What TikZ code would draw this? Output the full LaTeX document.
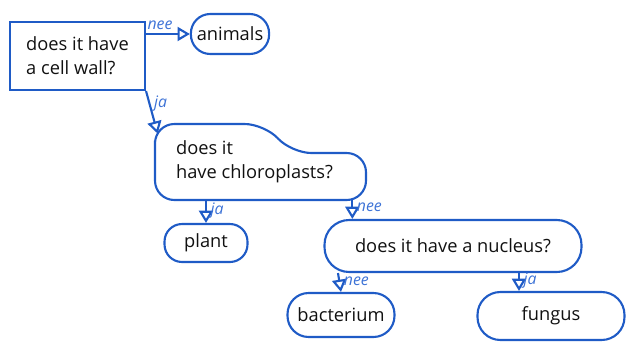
\documentclass[tikz,border=0pt]{standalone}
\usepackage{fontspec}
\setmainfont{Open Sans}
\usetikzlibrary{arrows.meta}
\usepackage{xcolor}
\definecolor{penblue}{HTML}{1F5BC6}
\definecolor{inkblue}{HTML}{3C72D6}
\definecolor{jet}{HTML}{111111}

\begin{document}
\begin{tikzpicture}[x=0.02cm, y=-0.02cm,
  question/.style={draw=penblue, line width=1.2pt, align=left, text=jet,
                   font=\fontsize{10.4}{13.6}\selectfont},
  answer/.style={draw=penblue, line width=1.2pt, rounded corners=10pt,
                 text=jet, font=\fontsize{10.4}{13.6}\selectfont},
  arr/.style={-{Triangle[open, length=7pt, width=8pt]}, draw=penblue, line width=1.2pt},
  choice/.style={font=\fontsize{9}{9}\selectfont\itshape, text=inkblue, inner sep=2pt}
]
  \useasboundingbox (0,0) rectangle (636,345);

  % Root question
  \node[question, minimum width=2.7cm, minimum height=1.36cm] (wall) at (77.5,56)
    {does it have\\a cell wall?};
  \node[answer, minimum width=1.52cm, minimum height=0.8cm, rounded corners=11pt] (animals) at (230,34) {animals};
  \draw[arr] (wall.north east |- animals.west) -- (animals.west)
    node[choice, above, pos=0.32] {nee};

  % Chloroplasts
  \node[text=jet, align=left, font=\fontsize{10.4}{13.6}\selectfont,
        minimum width=4.2cm, minimum height=1.52cm] (chloro) at (260,162)
    {does it\\have chloroplasts?\hspace*{0.6em}};
  \draw[penblue, line width=1.2pt, rounded corners=11pt]
    (155,160) -- (155,124) -- (264,124) -- (292,153) -- (366,153)
    -- (366,200) -- (155,200) -- cycle;
  \draw[arr] (wall.south east) -- ([shift={(0.06cm,-0.2cm)}]chloro.north west)
    node[choice, right, pos=0.3] {ja};

  \node[answer, minimum width=1.66cm, minimum height=0.76cm] (plant) at (206,243) {plant};
  \draw[arr] (plant.north |- chloro.south) -- (plant.north)
    node[choice, right, pos=0.45] {ja};

  % Nucleus
  \node[answer, minimum width=5.14cm, minimum height=1.04cm, rounded corners=14pt] (nucleus) at (453,246)
    {does it have a nucleus?};
  \draw[arr] ([xshift=-0.26cm]chloro.south east) -- ([xshift=-0.26cm]chloro.south east |- nucleus.north)
    node[choice, right, pos=0.35] {nee};

  \node[answer, minimum width=2.14cm, minimum height=0.88cm, rounded corners=12pt] (bacterium) at (341,315) {bacterium};
  \draw[arr] ([xshift=-0.06cm]bacterium.north |- nucleus.south) -- (bacterium.north)
    node[choice, right, pos=0.45] {nee};

  \node[answer, minimum width=2.94cm, minimum height=0.96cm, rounded corners=13pt] (fungus) at (551,316) {fungus};
  \draw[arr] ([xshift=-0.64cm]fungus.north |- nucleus.south) -- ([xshift=-0.64cm]fungus.north)
    node[choice, right, pos=0.4] {ja};
\end{tikzpicture}
\end{document}
